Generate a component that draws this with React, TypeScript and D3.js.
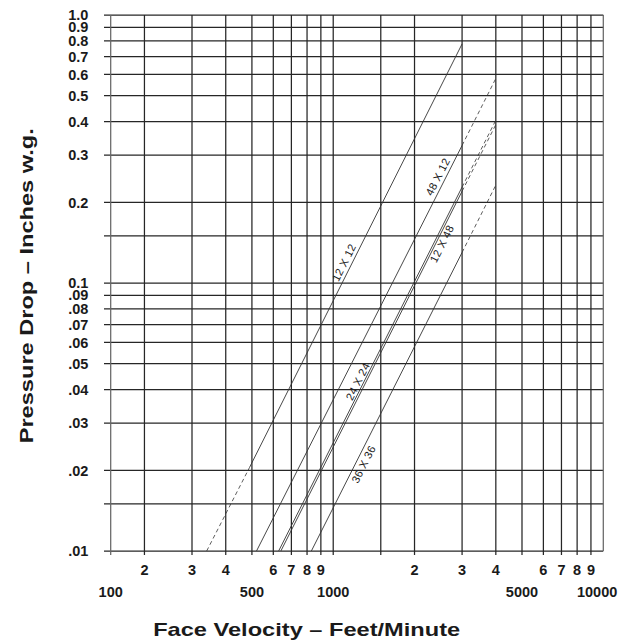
import React from "react";
import * as d3 from "d3";

// Axis grid values
const xGrid = [150, 200, 300, 400, 500, 600, 700, 800, 900, 1000, 1500, 2000, 3000, 4000, 5000, 6000, 7000, 8000, 9000, 10000];
const yGrid = [0.01, 0.015, 0.02, 0.03, 0.04, 0.05, 0.06, 0.07, 0.08, 0.09, 0.1, 0.15, 0.2, 0.3, 0.4, 0.5, 0.6, 0.7, 0.8, 0.9, 1.0];

// Tick labels
const yTickValues = [1.0, 0.9, 0.8, 0.7, 0.6, 0.5, 0.4, 0.3, 0.2, 0.1, 0.09, 0.08, 0.07, 0.06, 0.05, 0.04, 0.03, 0.02, 0.01];
const yTickLabels = ["1.0", "0.9", "0.8", "0.7", "0.6", "0.5", "0.4", "0.3", "0.2", "0.1", ".09", ".08", ".07", ".06", ".05", ".04", ".03", ".02", ".01"];
const xDigitValues = [200, 300, 400, 600, 700, 800, 900, 2000, 3000, 4000, 6000, 7000, 8000, 9000];
const xDigitLabels = ["2", "3", "4", "6", "7", "8", "9", "2", "3", "4", "6", "7", "8", "9"];
const xMajorValues = [150, 500, 1000, 5000, 10000];
const xMajorLabels = ["100", "500", "1000", "5000", "10000"];

// Filter curves: [velocity, pressure drop]
const filterNames = ["12 X 12", "48 X 12", "24 X 24", "12 X 48", "36 X 36"];
const solidFrom = [[490, 0.0205], [520, 0.01], [640, 0.01], [628, 0.01], [830, 0.01]];
const solidTo = [[3000, 0.78], [3000, 0.326], [3000, 0.22], [3000, 0.228], [3000, 0.13]];
const dashedFrom = [[340, 0.01], [3000, 0.326], [3000, 0.22], [3000, 0.228], [3000, 0.13]];
const dashedTo = [[490, 0.0205], [4000, 0.58], [4000, 0.39], [4000, 0.405], [4000, 0.232]];
const labelVelocity = [1160, 2580, 1306, 2385, 1223];
const labelSide = [1, 1, 1, -1, -1];

const W = 626;
const H = 644;
const x = d3.scaleLog().domain([150, 10000]).range([110.7, 603.3]);
const y = d3.scaleLog().domain([0.01, 1.0]).range([551, 15]);

const FONT = "'Liberation Sans', Arial, Helvetica, sans-serif";
const GRID = "#262626";
const CURVE = "#333";

export default function App() {
  const line = d3.line<number[]>().x((d) => x(d[0])).y((d) => y(d[1]));
  return (
    <svg width={W} height={H} style={{ position: "absolute", left: 0, top: 0, background: "#fff" }} fontFamily={FONT}>
      {/* horizontal grid */}
      {yGrid.map((v, i) => (
        <line key={"h" + i} x1={104} x2={x(10000)} y1={y(v)} y2={y(v)} stroke={GRID} strokeWidth={1.25} />
      ))}
      {/* vertical grid */}
      {xGrid.map((v, i) => (
        <line key={"v" + i} x1={x(v)} x2={x(v)} y1={y(1.0)} y2={v === 10000 ? y(0.01) : 555} stroke={i === 0 || v === 10000 ? "#666" : GRID} strokeWidth={1.25} />
      ))}
      {/* y tick labels */}
      {yTickValues.map((v, i) => (
        <text key={"yl" + i} x={88.3} y={y(v)} dy="0.36em" textAnchor="end" fontSize={14.5} fontWeight="bold" fill="#1a1a1a">
          {yTickLabels[i]}
        </text>
      ))}
      {/* x digit labels */}
      {xDigitValues.map((v, i) => (
        <text key={"xd" + i} x={x(v)} y={575} textAnchor="middle" fontSize={14.5} fontWeight="bold" fill="#1a1a1a">
          {xDigitLabels[i]}
        </text>
      ))}
      {xMajorValues.map((v, i) => {
        const last = i === xMajorValues.length - 1;
        return (
          <text key={"xm" + i} x={last ? x(v) + 14 : x(v)} y={596.7} textAnchor={last ? "end" : "middle"} fontSize={14.5} fontWeight="bold" fill="#1a1a1a">
            {xMajorLabels[i]}
          </text>
        );
      })}
      {/* curves */}
      {filterNames.map((name, i) => (
        <g key={"c" + i}>
          <path d={line([solidFrom[i], solidTo[i]]) || ""} fill="none" stroke={CURVE} strokeWidth={0.9} />
          <path d={line([dashedFrom[i], dashedTo[i]]) || ""} fill="none" stroke={CURVE} strokeWidth={0.8} strokeDasharray="4,3" />
        </g>
      ))}
      {/* curve labels */}
      {filterNames.map((name, i) => {
        const a = solidFrom[i];
        const b = solidTo[i];
        const ang = Math.atan2(y(b[1]) - y(a[1]), x(b[0]) - x(a[0]));
        const slope = Math.log(b[1] / a[1]) / Math.log(b[0] / a[0]);
        const v = labelVelocity[i];
        const p = a[1] * Math.pow(v / a[0], slope);
        const px = x(v);
        const py = y(p);
        const nx = Math.sin(ang);
        const ny = -Math.cos(ang);
        const off = 7.5 * labelSide[i];
        const cx = px + nx * off;
        const cy = py + ny * off;
        return (
          <text key={"lab" + i} x={cx} y={cy} dy="0.35em" textAnchor="middle" fontSize={11} fill="#222"
            textLength={40} lengthAdjust="spacing"
            transform={`rotate(${(ang * 180) / Math.PI},${cx},${cy})`}>
            {name}
          </text>
        );
      })}
      {/* axis titles */}
      <text x={306.7} y={635.7} textAnchor="middle" fontSize={19} fontWeight="bold" fill="#1a1a1a" textLength={307} lengthAdjust="spacingAndGlyphs">
        Face Velocity – Feet/Minute
      </text>
      <text x={33.3} y={285.8} textAnchor="middle" fontSize={19} fontWeight="bold" fill="#1a1a1a" textLength={315} lengthAdjust="spacingAndGlyphs" transform="rotate(-90,33.3,285.8)">
        Pressure Drop – Inches w.g.
      </text>
    </svg>
  );
}
